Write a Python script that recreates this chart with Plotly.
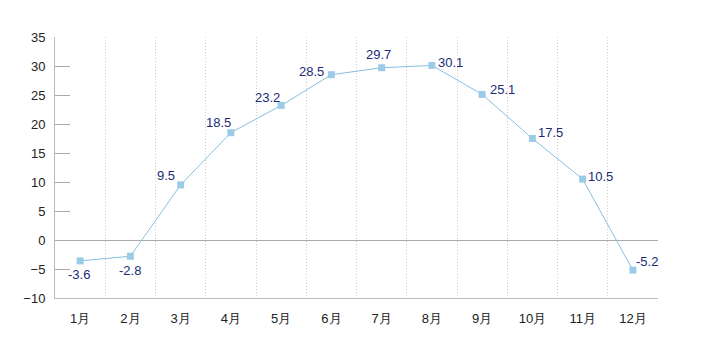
import plotly.graph_objects as go

months = ["1月", "2月", "3月", "4月", "5月", "6月", "7月", "8月", "9月", "10月", "11月", "12月"]
values = [-3.6, -2.8, 9.5, 18.5, 23.2, 28.5, 29.7, 30.1, 25.1, 17.5, 10.5, -5.2]
y_ticks = [-10, -5, 0, 5, 10, 15, 20, 25, 30, 35]
# label offsets in pixels (dx, dy) relative to the marker; style only
label_shift = [(-1, -14), (0, -14), (-15, 9), (-12, 10), (-14, 8), (-20, 3),
               (-3, 13), (19, 3), (20, 5), (18, 6), (18, 3), (14, 9)]

xs = list(range(1, len(months) + 1))
FONT = "Liberation Sans, Arial, sans-serif"

fig = go.Figure()
fig.add_trace(go.Scatter(
    x=xs, y=values, mode="lines+markers",
    line=dict(color="#86c0e3", width=1),
    marker=dict(symbol="square", size=7, color="#9ccbe8"),
    cliponaxis=False, hoverinfo="x+y",
))
for x, v, (dx, dy) in zip(xs, values, label_shift):
    fig.add_annotation(x=x, y=v, text=f"{v}", showarrow=False,
                       xanchor="center", yanchor="middle", xshift=dx, yshift=dy,
                       font=dict(family=FONT, size=13, color="#1b2a78"))

fig.update_layout(
    width=706, height=362,
    margin=dict(l=47, r=56, t=29, b=72),
    paper_bgcolor="white", plot_bgcolor="white",
    showlegend=False,
    font=dict(family=FONT, size=13, color="#222"),
)
fig.update_xaxes(
    range=[0.5, 12.5], tickvals=xs, ticktext=months, showgrid=False,
    showline=True, linecolor="#bbbbbb", linewidth=1, ticks="", zeroline=False,
    ticklabelstandoff=8,
    minor=dict(tickvals=[i + 0.5 for i in range(1, 12)], showgrid=True,
               gridcolor="#cfcfcf", griddash="1px,2px", gridwidth=1),
)
fig.update_yaxes(
    range=[-10, 35], tickvals=y_ticks, showgrid=False,
    showline=True, linecolor="#bbbbbb", linewidth=1,
    ticks="inside", ticklen=15, tickcolor="#aaaaaa", tickwidth=1,
    zeroline=True, zerolinecolor="#aaaaaa", zerolinewidth=1,
    ticklabelstandoff=6,
)

fig.write_html("out.html")
